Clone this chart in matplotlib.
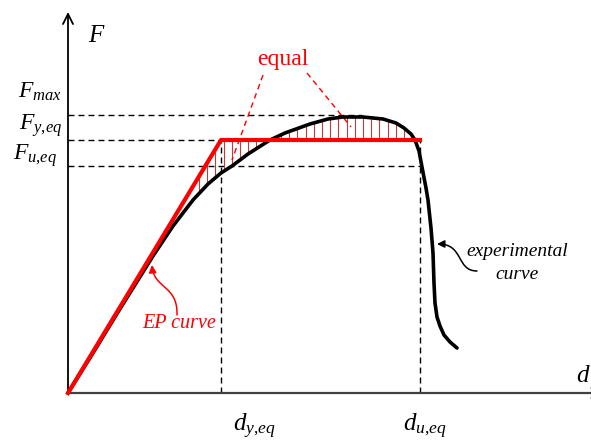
import numpy as np
import matplotlib.pyplot as plt
from matplotlib.patches import FancyArrowPatch
from matplotlib.path import Path

plt.rcParams['mathtext.fontset'] = 'custom'
plt.rcParams['mathtext.rm'] = 'Liberation Serif'
plt.rcParams['mathtext.it'] = 'Liberation Serif:italic'
plt.rcParams['font.family'] = 'Liberation Serif'

# characteristic values (arbitrary units)
d_yeq = 15.3
d_ueq = 35.2
F_yeq = 25.3
F_max = 27.8
F_ueq = 22.7

# experimental curve
exp_d = [0, 2.5, 5.0, 8.5, 10.5, 12.5, 14.0, 15.3, 16.4, 18.0, 20.2, 21.7, 24.2,
         26.0, 27.5, 29.5, 31.5, 32.8, 33.6, 34.3, 34.7, 35.1, 35.4, 35.8, 36.0,
         36.3, 36.5, 36.6, 36.7, 36.9, 37.2, 37.6, 38.2, 38.9]
exp_F = [0, 4.0, 8.1, 13.7, 16.7, 19.3, 20.9, 22.0, 22.7, 23.9, 25.3, 26.0, 26.9,
         27.4, 27.6, 27.6, 27.4, 27.0, 26.5, 25.9, 25.3, 24.2, 22.6, 20.5, 19.3,
         16.5, 14.0, 11.0, 9.0, 7.6, 6.7, 5.8, 5.1, 4.5]

# elastic-perfectly plastic curve
ep_d = [0, d_yeq, d_ueq]
ep_F = [0, F_yeq, F_yeq]

fig = plt.figure(figsize=(5.91, 4.41), dpi=100)
ax = fig.add_axes([0, 0, 1, 1])
ax.set_xlim(-6.8, 52.3)
ax.set_ylim(-4.8, 39.3)
ax.axis('off')

# hatching between the two curves
hx = np.arange(13.1, 34.6, 0.82)
ax.vlines(hx, np.interp(hx, ep_d, ep_F), np.interp(hx, exp_d, exp_F),
          color='#c03c3c', lw=0.8, zorder=2)

# dashed reference lines
dash = dict(color='black', lw=1, dashes=(4.3, 2.9), zorder=1)
ax.plot([0, 29.4], [F_max, F_max], **dash)
ax.plot([0, d_yeq], [F_yeq, F_yeq], **dash)
ax.plot([0, d_ueq], [F_ueq, F_ueq], **dash)
ax.plot([d_yeq, d_yeq], [0, F_yeq], **dash)
ax.plot([d_ueq, d_ueq], [0, F_yeq], **dash)

ax.plot(exp_d, exp_F, color='black', lw=2.6, solid_capstyle='round',
        solid_joinstyle='round', zorder=3)
ax.plot(ep_d, ep_F, color='red', lw=3, zorder=4)

# axes with arrows
ax.annotate('', xy=(0, 38.1), xytext=(0, 0), annotation_clip=False,
            arrowprops=dict(arrowstyle='->', lw=1.3, color='black',
                            mutation_scale=18, shrinkA=0, shrinkB=0))
ax.annotate('', xy=(53.6, 0), xytext=(0, 0), annotation_clip=False,
            arrowprops=dict(arrowstyle='->', lw=1.6, color='#404040',
                            mutation_scale=18, shrinkA=0, shrinkB=0))

# labels
ax.text(2.0, 35.1, '$F$', fontsize=18, va='baseline', ha='left')
ax.text(-0.6, 29.5, '$F_{max}$', fontsize=17, va='baseline', ha='right')
ax.text(-0.6, 26.3, '$F_{y{,}eq}$', fontsize=17, va='baseline', ha='right')
ax.text(-1.1, 23.3, '$F_{u{,}eq}$', fontsize=17, va='baseline', ha='right')
ax.text(16.5, -3.8, '$d_{y{,}eq}$', fontsize=18, va='baseline', ha='left')
ax.text(33.5, -3.8, '$d_{u{,}eq}$', fontsize=18, va='baseline', ha='left')
ax.text(50.8, 1.1, '$d$', fontsize=18, va='baseline', ha='left')

ax.text(21.45, 32.8, 'equal', color='red', fontsize=17, ha='center', va='baseline')
rdash = dict(color='red', lw=1, dashes=(4, 3))
ax.plot([19.5, 16.4], [31.8, 23.3], **rdash)
ax.plot([23.9, 28.3], [32.0, 26.6], **rdash)

ax.text(11.15, 6.5, 'EP curve', color='red', fontsize=14.5, style='italic',
        ha='center', va='baseline')
ax.text(44.9, 13.7, 'experimental', fontsize=14, style='italic',
        ha='center', va='baseline')
ax.text(44.9, 11.4, 'curve', fontsize=14, style='italic',
        ha='center', va='baseline')

# curved pointer arrows
p1 = Path([(10.9, 7.8), (11.0, 10.8), (8.6, 10.4), (8.4, 12.8)],
          [Path.MOVETO, Path.CURVE4, Path.CURVE4, Path.CURVE4])
ax.add_patch(FancyArrowPatch(path=p1, arrowstyle='-|>', mutation_scale=11,
                             lw=1.1, color='red'))
p2 = Path([(40.9, 12.2), (38.8, 12.2), (39.6, 14.9), (36.9, 14.9)],
          [Path.MOVETO, Path.CURVE4, Path.CURVE4, Path.CURVE4])
ax.add_patch(FancyArrowPatch(path=p2, arrowstyle='-|>', mutation_scale=11,
                             lw=1.1, color='black'))

fig.savefig('out.png', dpi=100)
